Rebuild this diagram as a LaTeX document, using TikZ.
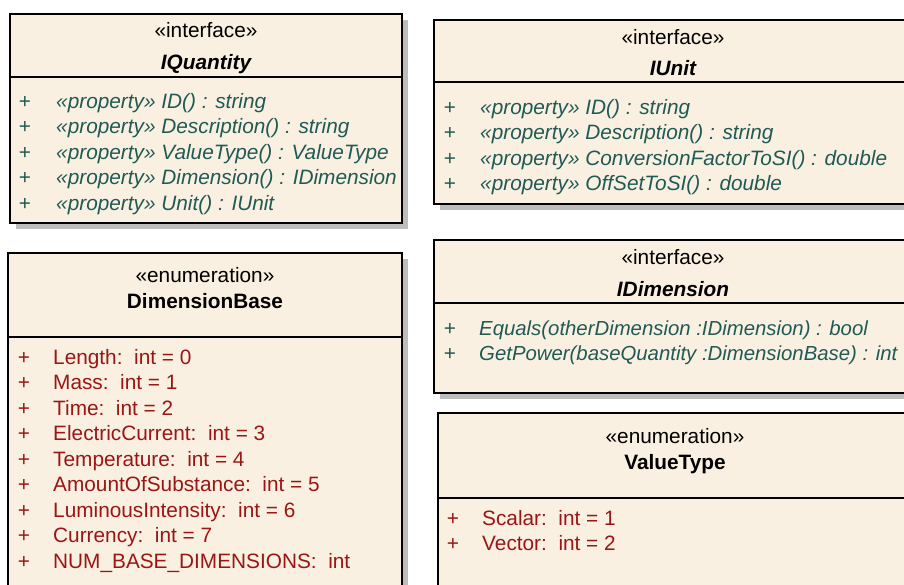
\documentclass[tikz,border=0pt]{standalone}
\usepackage{fontspec}
\setmainfont{Liberation Sans}
\usetikzlibrary{shadows}

\definecolor{classfill}{HTML}{FAF0E1}
\definecolor{propcol}{HTML}{1F5A55}
\definecolor{enumcol}{HTML}{9A1616}
\definecolor{shadowcol}{HTML}{BDBDBD}

\newcommand{\umlsize}{\fontsize{20.8}{25}\selectfont}
\newcommand{\opsize}{\fontsize{20.35}{25}\selectfont}

\tikzset{
  umlbox/.style={draw=black, line width=2pt, fill=classfill, anchor=north west,
    inner sep=0pt, outer sep=0pt,
    drop shadow={shadow xshift=6pt, shadow yshift=-6pt, fill=shadowcol, opacity=1}},
  sepline/.style={draw=black, line width=2pt},
  basefont/.style={font=\umlsize},
  stereo/.style={basefont, anchor=base, inner sep=0pt},
  ititle/.style={font=\umlsize\bfseries\itshape, anchor=base, inner sep=0pt},
  etitle/.style={font=\umlsize\bfseries, anchor=base, inner sep=0pt},
  vis/.style={basefont, anchor=base, inner sep=0pt},
  propvis/.style={vis, text=propcol},
  enumvis/.style={vis, text=enumcol},
  prop/.style={font=\umlsize\itshape, text=propcol, anchor=base west, inner sep=0pt},
  oper/.style={prop, font=\opsize\itshape},
  lit/.style={basefont, text=enumcol, anchor=base west, inner sep=0pt},
}

\begin{document}
\begin{tikzpicture}[x=1pt, y=-1pt]
\useasboundingbox (0,0) rectangle (904,584);
\clip (0,0) rectangle (904,584);

% ---------- IQuantity ----------
\node[umlbox, minimum width=392pt, minimum height=209pt] (iq) at (10,14) {};
\draw[sepline] ([yshift=-63pt]iq.north west) -- ([yshift=-63pt]iq.north east);
\node[stereo] (iq-st) at (206,37.5) {«interface»};
\node[ititle] (iq-name) at (206,69) {IQuantity};
\node[propvis] (iq-v1) at (25,108) {+};
\node[propvis] (iq-v2) at (25,133.5) {+};
\node[propvis] (iq-v3) at (25,159) {+};
\node[propvis] (iq-v4) at (25,184.5) {+};
\node[propvis] (iq-v5) at (25,210) {+};
\node[prop] (iq-p1) at (56,108) {«property» ID() : string};
\node[prop] (iq-p2) at (56,133.5) {«property» Description() : string};
\node[prop] (iq-p3) at (56,159) {«property» ValueType() : ValueType};
\node[prop] (iq-p4) at (56,184.5) {«property» Dimension() : IDimension};
\node[prop] (iq-p5) at (56,210) {«property» Unit() : IUnit};

% ---------- IUnit ----------
\node[umlbox, minimum width=478pt, minimum height=184pt] (iu) at (434,20) {};
\draw[sepline] ([yshift=-62pt]iu.north west) -- ([yshift=-62pt]iu.north east);
\node[stereo] (iu-st) at (673,44) {«interface»};
\node[ititle] (iu-name) at (673,75) {IUnit};
\node[propvis] (iu-v1) at (450,114) {+};
\node[propvis] (iu-v2) at (450,139.5) {+};
\node[propvis] (iu-v3) at (450,165) {+};
\node[propvis] (iu-v4) at (450,190.5) {+};
\node[prop] (iu-p1) at (480,114) {«property» ID() : string};
\node[prop] (iu-p2) at (480,139.5) {«property» Description() : string};
\node[prop] (iu-p3) at (480,165) {«property» ConversionFactorToSI() : double};
\node[prop] (iu-p4) at (480,190.5) {«property» OffSetToSI() : double};

% ---------- DimensionBase ----------
\node[umlbox, minimum width=394pt, minimum height=360pt] (db) at (8,253) {};
\draw[sepline] ([yshift=-84pt]db.north west) -- ([yshift=-84pt]db.north east);
\node[stereo] (db-st) at (205,282) {«enumeration»};
\node[etitle] (db-name) at (205,308) {DimensionBase};
\node[enumvis] (db-v1) at (24,364) {+};
\node[enumvis] (db-v2) at (24,389.5) {+};
\node[enumvis] (db-v3) at (24,415) {+};
\node[enumvis] (db-v4) at (24,440.5) {+};
\node[enumvis] (db-v5) at (24,466) {+};
\node[enumvis] (db-v6) at (24,491.5) {+};
\node[enumvis] (db-v7) at (24,517) {+};
\node[enumvis] (db-v8) at (24,542.5) {+};
\node[enumvis] (db-v9) at (24,568) {+};
\node[lit] (db-l1) at (53,364) {Length:~~int = 0};
\node[lit] (db-l2) at (53,389.5) {Mass:~~int = 1};
\node[lit] (db-l3) at (53,415) {Time:~~int = 2};
\node[lit] (db-l4) at (53,440.5) {ElectricCurrent:~~int = 3};
\node[lit] (db-l5) at (53,466) {Temperature:~~int = 4};
\node[lit] (db-l6) at (53,491.5) {AmountOfSubstance:~~int = 5};
\node[lit] (db-l7) at (53,517) {LuminousIntensity:~~int = 6};
\node[lit] (db-l8) at (53,542.5) {Currency:~~int = 7};
\node[lit] (db-l9) at (53,568) {NUM\_BASE\_DIMENSIONS:~~int};

% ---------- IDimension ----------
\node[umlbox, minimum width=478pt, minimum height=153pt] (idm) at (434,240) {};
\draw[sepline] ([yshift=-63pt]idm.north west) -- ([yshift=-63pt]idm.north east);
\node[stereo] (idm-st) at (673,264) {«interface»};
\node[ititle] (idm-name) at (673,296) {IDimension};
\node[propvis] (idm-v1) at (450,335) {+};
\node[propvis] (idm-v2) at (450,360.5) {+};
\node[oper] (idm-p1) at (479,335) {Equals(otherDimension :IDimension) : bool};
\node[oper] (idm-p2) at (479,360.5) {GetPower(baseQuantity :DimensionBase) : int};

% ---------- ValueType ----------
\node[umlbox, minimum width=474pt, minimum height=200pt] (vt) at (438,413) {};
\draw[sepline] ([yshift=-85pt]vt.north west) -- ([yshift=-85pt]vt.north east);
\node[stereo] (vt-st) at (675,443) {«enumeration»};
\node[etitle] (vt-name) at (675,469) {ValueType};
\node[enumvis] (vt-v1) at (453,525) {+};
\node[enumvis] (vt-v2) at (453,550.5) {+};
\node[lit] (vt-l1) at (482,525) {Scalar:~~int = 1};
\node[lit] (vt-l2) at (482,550.5) {Vector:~~int = 2};
\end{tikzpicture}
\end{document}
